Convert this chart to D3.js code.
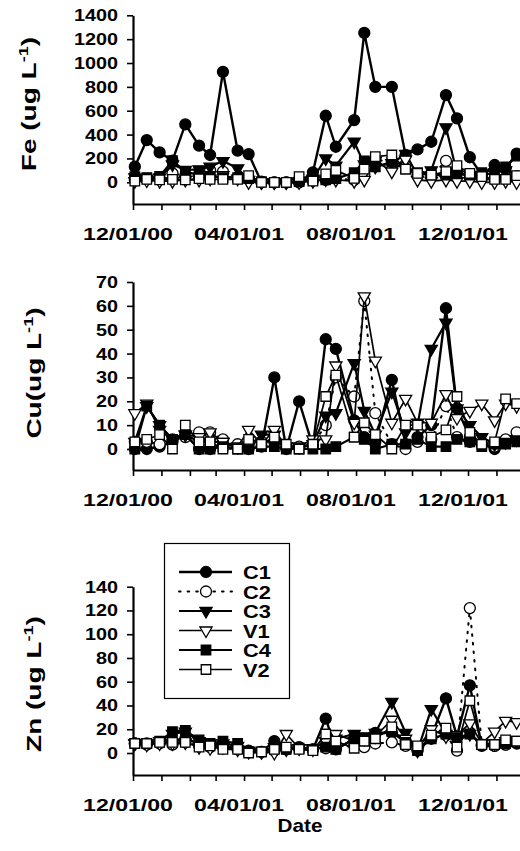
<!DOCTYPE html>
<html>
<head>
<meta charset="utf-8">
<script src="https://cdn.jsdelivr.net/npm/d3@7"></script>
<style>
  body { margin: 0; background: #fff; }
  svg { display: block; }
  text { font-family: "Liberation Sans", Arial, Helvetica, sans-serif; font-weight: bold; fill: #000; }
</style>
</head>
<body>
<svg id="chart" width="520" height="851"></svg>
<script>
// Sampling dates (roughly fortnightly)
const sampleDates = ["2000-12-03","2000-12-16","2000-12-30","2001-01-13","2001-01-27","2001-02-11",
  "2001-02-23","2001-03-09","2001-03-25","2001-04-06","2001-04-20","2001-05-04","2001-05-17",
  "2001-05-31","2001-06-15","2001-06-29","2001-07-10","2001-07-30","2001-08-10","2001-08-22",
  "2001-09-09","2001-09-24","2001-10-07","2001-10-22","2001-11-07","2001-11-19","2001-12-03",
  "2001-12-16","2001-12-30","2002-01-11","2002-01-23"];

const siteNames = ["C1", "C2", "C3", "V1", "C4", "V2"];

// Fe (ug L-1)
const feC1 = [131,354,251,181,485,307,229,926,265,237,0,0,0,0,84,558,298,522,1252,800,800,229,276,340,731,536,210,60,145,117,240];
const feC2 = [20,25,30,75,55,60,100,89,40,25,5,0,0,5,15,20,30,20,70,190,170,150,60,50,180,90,60,40,30,40,50];
const feC3 = [40,30,40,150,103,109,131,178,117,20,0,0,0,10,30,200,140,340,150,130,160,237,60,100,461,75,60,60,80,100,60];
const feV1 = [10,15,10,10,20,20,30,60,30,0,0,0,0,0,10,25,20,10,20,180,90,190,20,10,20,10,10,0,0,10,0];
const feC4 = [47,40,50,181,90,60,50,40,40,30,5,0,0,5,20,20,30,80,180,130,170,110,80,60,60,70,60,80,110,130,220];
const feV2 = [10,25,20,25,20,30,25,25,25,56,0,0,0,47,10,70,100,33,110,215,229,110,75,60,90,140,75,47,25,25,56];

// Cu (ug L-1)
const cuC1 = [0,0,1,3,6,0,0,2,1,0,1,30,0,20,1,46,42,12,5,3,29,2,5,10,59,17,5,2,0,3,4];
const cuC2 = [3,3,2,4,5,7,7,4,2,1,3,3,1,1,2,10,30,22,62,15,2,0,3,4,18,5,3,2,1,4,7];
const cuC3 = [3,18,10,4,6,3,3,3,1,1,6,6,1,1,2,14,15,36,16,6,24,7,10,42,53,17,10,5,2,3,4];
const cuV1 = [15,19,8,4,6,5,7,3,1,8,2,8,1,1,4,4,35,11,64,37,11,21,11,11,23,13,16,19,12,19,18];
const cuC4 = [0,18,10,4,6,0,0,1,0,0,1,1,0,0,0,0,1,5,4,0,2,2,4,1,1,4,3,1,2,2,3];
const cuV2 = [3,4,6,0,10,3,3,0,0,4,2,5,2,0,2,22,31,5,11,6,0,10,10,5,8,22,7,2,3,21,19];

// Zn (ug L-1)
const znC1 = [8,8,9,10,12,8,6,5,5,2,1,10,3,5,3,29,3,12,10,17,17,10,2,14,46,14,57,6,6,7,8];
const znC2 = [8,7,8,7,9,6,5,6,3,1,1,2,4,4,3,4,5,6,5,8,9,6,3,12,15,2,122,7,6,7,9];
const znC3 = [8,8,10,16,18,10,8,8,6,2,1,5,3,4,4,10,12,16,14,17,43,17,2,37,16,10,16,8,8,10,10];
const znV1 = [8,7,8,8,9,5,4,5,3,1,1,0,16,4,3,10,16,10,12,14,28,12,4,20,14,15,25,8,18,27,26];
const znC4 = [8,8,10,18,19,11,8,10,8,1,1,4,3,4,3,5,3,12,10,15,18,9,2,12,16,13,16,7,7,8,10];
const znV2 = [8,8,9,9,9,5,6,3,3,0,1,3,5,3,2,16,10,4,10,12,22,7,6,15,21,5,44,7,7,11,10];

const feTicks = [0,200,400,600,800,1000,1200,1400];
const cuTicks = [0,10,20,30,40,50,60,70];
const znTicks = [0,20,40,60,80,100,120,140];
const dateTickLabels = ["12/01/00","04/01/01","08/01/01","12/01/01"];

const parse = d3.timeParse("%Y-%m-%d");
const fmt = d3.timeFormat("%m/%d/%y");
const dates = sampleDates.map(parse);

// marker + line style per site
const styles = {
  C1: { sym: d3.symbolCircle,   size: 95, fill: "#000", rot: 0,   width: 2.4, dash: null },
  C2: { sym: d3.symbolCircle,   size: 95, fill: "#fff", rot: 0,   width: 2.0, dash: "1.6,7" },
  C3: { sym: d3.symbolTriangle, size: 64, fill: "#000", rot: 180, width: 2.2, dash: null },
  V1: { sym: d3.symbolTriangle, size: 64, fill: "#fff", rot: 180, width: 1.7, dash: null },
  C4: { sym: d3.symbolSquare,   size: 90, fill: "#000", rot: 0,   width: 2.2, dash: null },
  V2: { sym: d3.symbolSquare,   size: 90, fill: "#fff", rot: 0,   width: 1.7, dash: null }
};

const svg = d3.select("#chart");
const X0 = 133;

const x = d3.scaleTime()
  .domain([parse("2000-12-01"), parse("2001-12-01")])
  .range([X0, 468]);
const axisStart = parse("2000-12-01");
const axisEnd = parse("2002-03-01");

function stretchText(g, txt, tx, ty, size, sx, anchor) {
  return g.append("text")
    .attr("transform", `translate(${tx},${ty}) scale(${sx},1)`)
    .attr("text-anchor", anchor)
    .attr("font-size", size)
    .text(txt);
}

const panels = [
  { title: "Fe (ug L", series: [feC1,feC2,feC3,feV1,feC4,feV2], ticks: feTicks,
    top: 15.3, zero: 182.3, axisY: 204, titleX: 36, titleY: 104 },
  { title: "Cu(ug L", series: [cuC1,cuC2,cuC3,cuV1,cuC4,cuV2], ticks: cuTicks,
    top: 282, zero: 449, axisY: 470, titleX: 41, titleY: 373 },
  { title: "Zn (ug L", series: [znC1,znC2,znC3,znV1,znC4,znV2], ticks: znTicks,
    top: 586.7, zero: 753, axisY: 775, titleX: 41, titleY: 684 }
];

panels.forEach(p => {
  const tmax = p.ticks[p.ticks.length - 1];
  const base = d3.scaleLinear().domain([0, tmax]).range([p.zero, p.top]);
  const ymin = base.invert(p.axisY);
  const y = d3.scaleLinear().domain([ymin, tmax]).range([p.axisY, p.top]);
  const g = svg.append("g");

  // y axis
  const ya = g.append("g").attr("transform", `translate(${X0},0)`)
    .call(d3.axisLeft(y).tickValues(p.ticks).tickSize(6).tickSizeOuter(0).tickFormat(""));
  ya.select(".domain").attr("stroke-width", 2.2);
  ya.selectAll(".tick line").attr("stroke-width", 1.6);
  p.ticks.forEach(t => stretchText(g, t, 118, y(t) + 6, 16.5, 1.2, "end"));

  // x axis, monthly ticks
  const monthTicks = d3.timeMonth.range(axisStart, d3.timeDay.offset(axisEnd, 1));
  const xa = g.append("g").attr("transform", `translate(0,${p.axisY})`)
    .call(d3.axisBottom(x.copy().domain([axisStart, axisEnd]).range([X0, x(axisEnd)]))
            .tickValues(monthTicks).tickSize(6).tickSizeOuter(0).tickFormat(""));
  xa.select(".domain").attr("stroke-width", 2.2);
  xa.selectAll(".tick line").attr("stroke-width", 1.6);
  monthTicks.filter(d => dateTickLabels.includes(fmt(d)))
    .forEach(d => stretchText(g, fmt(d), x(d) - 5, p.axisY + 36, 16.5, 1.4, "middle"));

  // y title with superscript
  const tt = g.append("text")
    .attr("transform", `translate(${p.titleX},${p.titleY}) rotate(-90) scale(1.4,1)`)
    .attr("text-anchor", "middle").attr("font-size", 20);
  tt.append("tspan").text(p.title);
  tt.append("tspan").attr("font-size", 13).attr("dy", -8).text("-1");
  tt.append("tspan").attr("dy", 8).text(")");

  // series: line first, then markers, later sites drawn on top
  p.series.forEach((vals, si) => {
    const st = styles[siteNames[si]];
    const pts = vals.map((v, i) => ({ d: dates[i], v })).filter(o => o.v != null);
    const line = d3.line().x(o => x(o.d)).y(o => y(o.v));
    g.append("path").datum(pts)
      .attr("d", line).attr("fill", "none").attr("stroke", "#000")
      .attr("stroke-width", st.width)
      .attr("stroke-dasharray", st.dash)
      .attr("stroke-linecap", st.dash ? "round" : "butt")
      .attr("stroke-linejoin", "round");
    g.selectAll(null).data(pts).join("path")
      .attr("d", d3.symbol(st.sym, st.size))
      .attr("transform", o => `translate(${x(o.d)},${y(o.v)}) rotate(${st.rot})`)
      .attr("fill", st.fill).attr("stroke", "#000").attr("stroke-width", 1.3);
  });
});

// "Date" axis title
stretchText(svg, "Date", 300, 832, 18, 1.15, "middle");

// legend
const lg = svg.append("g");
lg.append("rect").attr("x", 164.5).attr("y", 543.5).attr("width", 125).attr("height", 155)
  .attr("fill", "#fff").attr("stroke", "#000").attr("stroke-width", 1.2);
siteNames.forEach((name, i) => {
  const st = styles[name];
  const yy = 572 + i * 19.5;
  lg.append("line").attr("x1", 179).attr("x2", 232).attr("y1", yy).attr("y2", yy)
    .attr("stroke", "#000").attr("stroke-width", st.width)
    .attr("stroke-dasharray", st.dash).attr("stroke-linecap", st.dash ? "round" : "butt");
  lg.append("path").attr("d", d3.symbol(st.sym, st.size))
    .attr("transform", `translate(206,${yy}) rotate(${st.rot})`)
    .attr("fill", st.fill).attr("stroke", "#000").attr("stroke-width", 1.3);
  stretchText(lg, name, 243, yy + 7, 19, 1.15, "start");
});
</script>
</body>
</html>
